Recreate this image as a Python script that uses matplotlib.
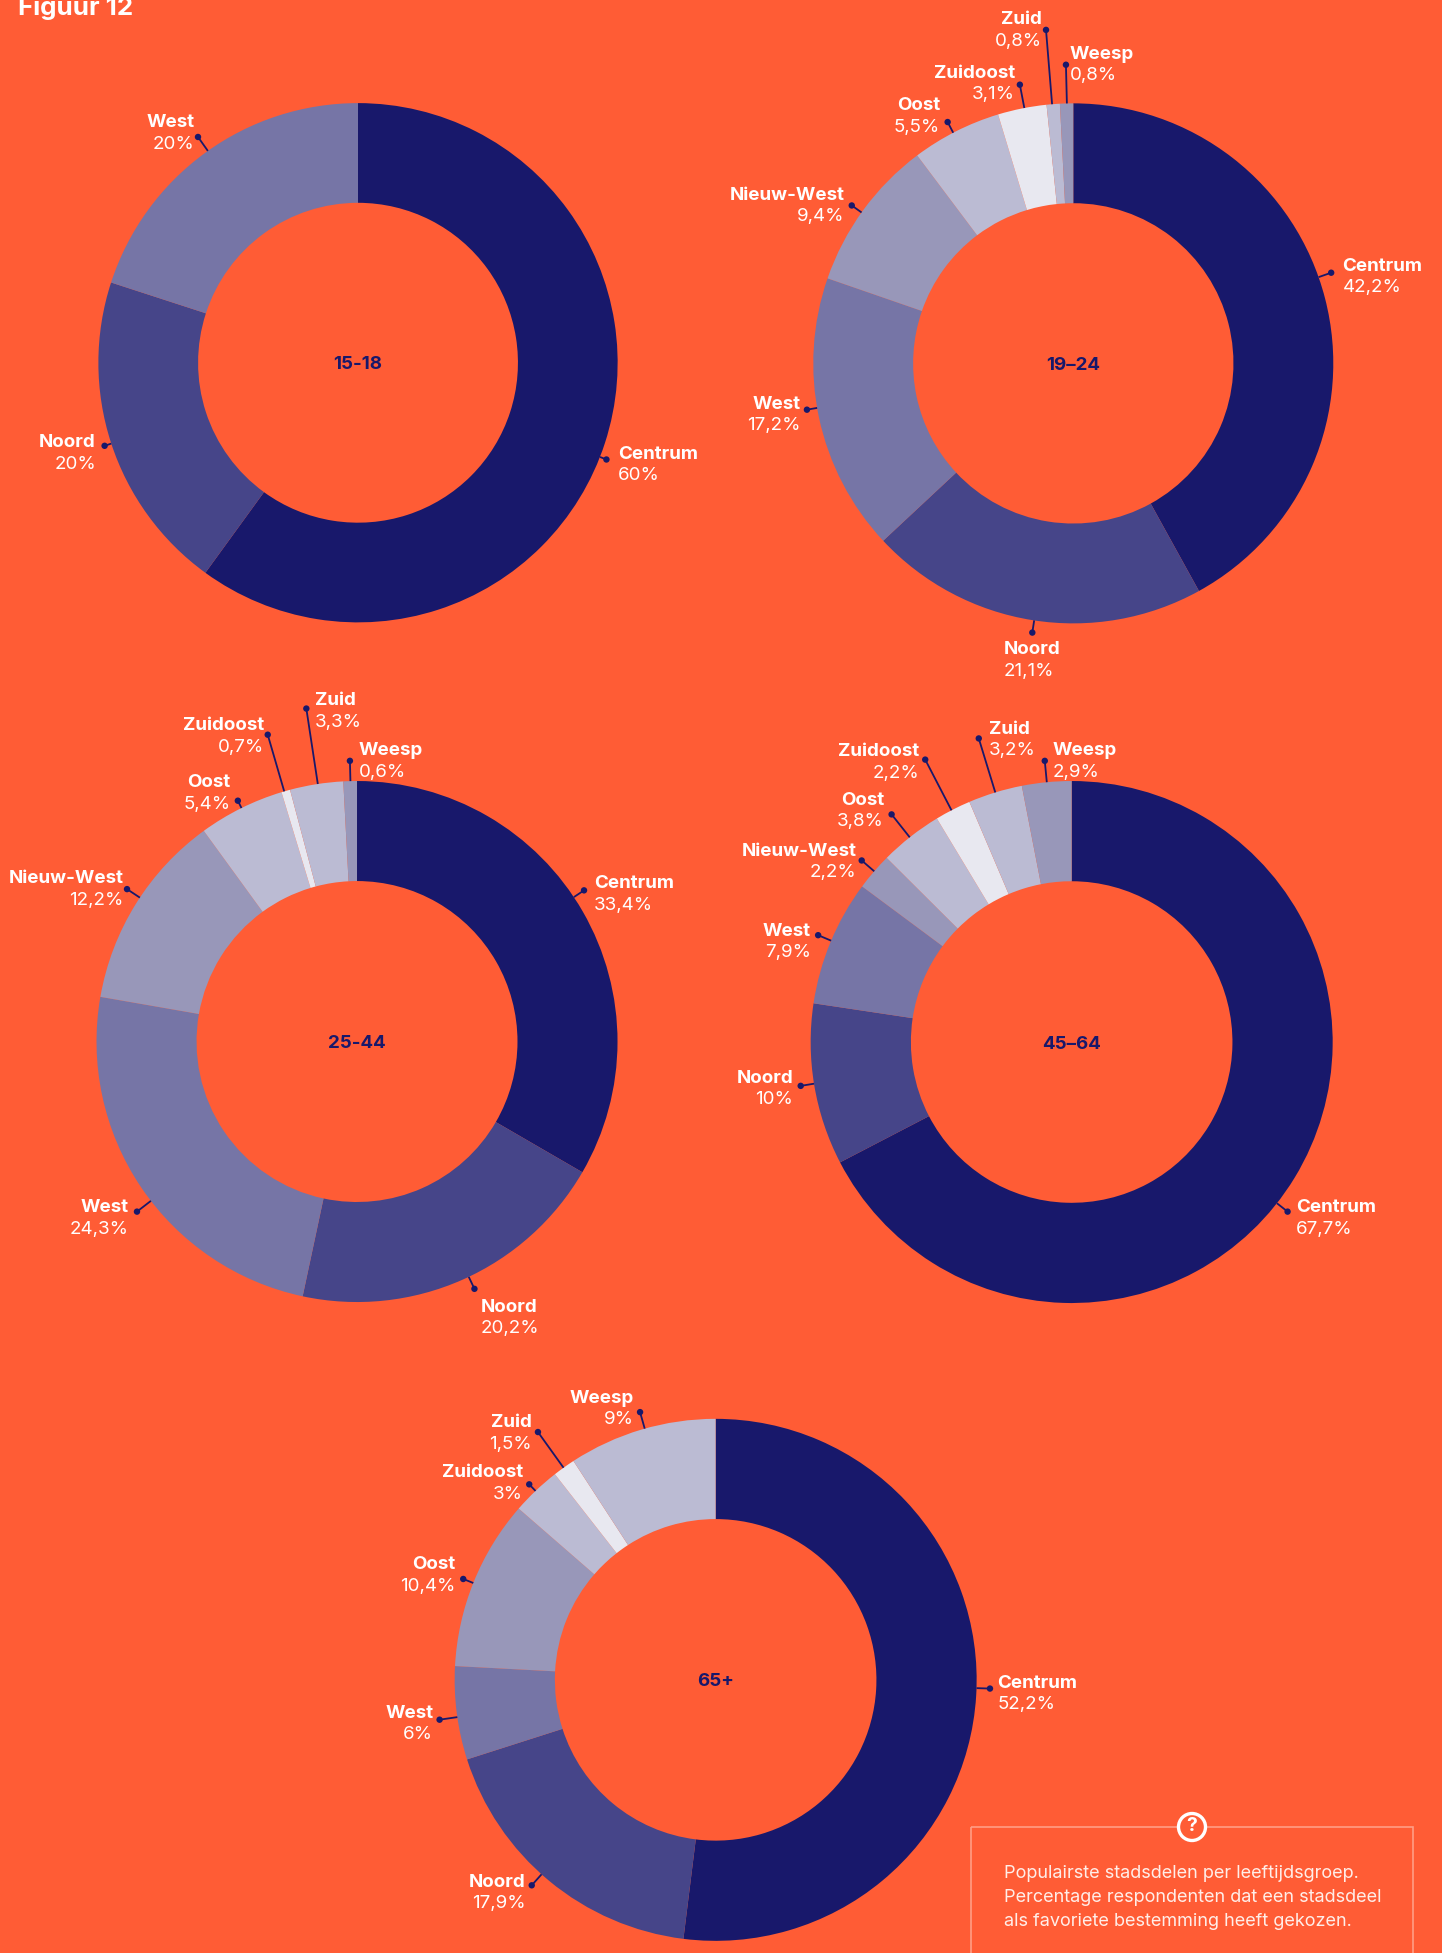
import matplotlib
matplotlib.use("Agg")
import matplotlib.pyplot as plt
from matplotlib.patches import Circle, Rectangle

# ── Data ──────────────────────────────────────────────────────────────────────
groups = ["15-18", "19–24", "25-44", "45–64", "65+"]

names_15_18 = ["Centrum", "Noord", "West"]
names_19_24 = ["Centrum", "Noord", "West", "Nieuw-West", "Oost", "Zuidoost", "Zuid", "Weesp"]
names_25_44 = ["Centrum", "Noord", "West", "Nieuw-West", "Oost", "Zuidoost", "Zuid", "Weesp"]
names_45_64 = ["Centrum", "Noord", "West", "Nieuw-West", "Oost", "Zuidoost", "Zuid", "Weesp"]
names_65 = ["Centrum", "Noord", "West", "Oost", "Zuidoost", "Zuid", "Weesp"]

# percentages as printed next to the slices
printed_15_18 = [60, 20, 20]
printed_19_24 = [42.2, 21.1, 17.2, 9.4, 5.5, 3.1, 0.8, 0.8]
printed_25_44 = [33.4, 20.2, 24.3, 12.2, 5.4, 0.7, 3.3, 0.6]
printed_45_64 = [67.7, 10, 7.9, 2.2, 3.8, 2.2, 3.2, 2.9]
printed_65 = [52.2, 17.9, 6, 10.4, 3, 1.5, 9]

# slice widths as measured on the picture, they differ a bit from the printed ones
slices_15_18 = [60, 20, 20]
slices_19_24 = [41.97, 21.08, 17.25, 9.45, 5.58, 3.03, 0.82, 0.82]
slices_25_44 = [33.37, 19.98, 24.4, 12.25, 5.33, 0.54, 3.3, 0.84]
slices_45_64 = [67.4, 10.0, 7.8, 2.3, 3.9, 2.23, 3.35, 3.06]
slices_65 = [51.97, 18.1, 5.77, 10.55, 3.05, 1.39, 9.17]

all_names = [names_15_18, names_19_24, names_25_44, names_45_64, names_65]
all_printed = [printed_15_18, printed_19_24, printed_25_44, printed_45_64, printed_65]
all_slices = [slices_15_18, slices_19_24, slices_25_44, slices_45_64, slices_65]

note_lines = [
    "Populairste stadsdelen per leeftijdsgroep.",
    "Percentage respondenten dat een stadsdeel",
    "als favoriete bestemming heeft gekozen.",
]

# ── Style / layout ────────────────────────────────────────────────────────────
BG = "#ff5c35"
NAVY = "#18186b"
palette = ["#18186b", "#464589", "#7675a6", "#9897b9", "#bbbbd3", "#e8e8f0", "#bbbbd3", "#9897b9"]
W, H = 1442, 1953
S = 1442 / 1158  # layout below

centers = [(287.5, 291.3), (861.9, 291.8), (286.7, 836.4), (860.6, 836.8), (574.7, 1349)]
radii = [208.5, 208.8, 209.2, 209.6, 209.6]
HOLE = 0.616

# leader dot (x, y), then label (x, y of the name, ha)
dots = [
    [(487, 369), (84, 358), (159, 110)],
    [(1069, 219), (829, 508), (648, 329), (684, 165), (761, 98), (819, 68), (840, 24), (856, 52)],
    [(469, 715), (381, 1035), (110, 973), (102, 714), (191, 643), (215, 590), (246, 569), (281, 611)],
    [(1034, 973), (643, 872), (657, 751), (692, 691), (716, 654), (743, 610), (786, 593), (839, 611)],
    [(795, 1356), (427, 1514), (353, 1381), (372, 1268), (425, 1192), (432, 1150), (514, 1134)],
]
labels = [
    [(496, 363, "left"), (76, 354, "right"), (155, 97, "right")],
    [(1078, 212, "left"), (806, 520, "left"), (642, 323, "right"), (677, 155, "right"),
     (754, 83, "right"), (814, 57, "right"), (836, 14, "right"), (859, 42, "left")],
    [(477, 708, "left"), (386, 1048, "left"), (102, 968, "right"), (98, 704, "right"),
     (184, 627, "right"), (211, 581, "right"), (253, 561, "left"), (288, 601, "left")],
    [(1041, 968, "left"), (636, 864, "right"), (650, 746, "right"), (687, 682, "right"),
     (709, 641, "right"), (737, 602, "right"), (794, 584, "left"), (845, 601, "left")],
    [(801, 1350, "left"), (421, 1510, "right"), (347, 1374, "right"), (365, 1255, "right"),
     (419, 1181, "right"), (426, 1141, "right"), (508, 1121, "right")],
]
LINE_GAP = 17.3
TEXT_DY = 1.7

plt.rcParams["font.family"] = ["Inter", "DejaVu Sans"]
fig = plt.figure(figsize=(W / 100, H / 100), dpi=100, facecolor=BG)

# overlay in pixels for the labels and the note box
over = fig.add_axes([0, 0, 1, 1], zorder=3)
over.set_xlim(0, W)
over.set_ylim(H, 0)
over.axis("off")

# ── Donuts ────────────────────────────────────────────────────────────────────
for i, group in enumerate(groups):
    cx, cy = centers[i][0] * S, centers[i][1] * S
    r = radii[i] * S
    ax = fig.add_axes([(cx - r) / W, 1 - (cy + r) / H, 2 * r / W, 2 * r / H], zorder=1)
    ax.pie(all_slices[i], colors=palette[:len(all_slices[i])], startangle=90, counterclock=False,
           radius=1, wedgeprops={"width": 1 - HOLE, "linewidth": 0})
    ax.set_xlim(-1, 1)
    ax.set_ylim(-1, 1)
    over.text(cx, cy + 2, group, ha="center", va="center", fontsize=13.5, fontweight="bold", color=NAVY)

    for name, val, dot, lab in zip(all_names[i], all_printed[i], dots[i], labels[i]):
        dx, dy = dot[0] * S - cx, dot[1] * S - cy
        dist = (dx ** 2 + dy ** 2) ** 0.5
        over.plot([cx + dx / dist * r, dot[0] * S], [cy + dy / dist * r, dot[1] * S],
                  color=NAVY, lw=1.3, solid_capstyle="butt")
        over.add_patch(Circle((dot[0] * S, dot[1] * S), 3.2, fc=NAVY, ec="none"))
        pct = f"{val:g}".replace(".", ",") + "%"
        tx = (lab[0] + (1 if lab[2] == "right" else 0)) * S
        over.text(tx, (lab[1] + TEXT_DY) * S, name, ha=lab[2], va="center", color="white",
                  fontsize=13.5, fontweight="bold")
        over.text(tx, (lab[1] + TEXT_DY + LINE_GAP) * S, pct, ha=lab[2], va="center", color="white",
                  fontsize=13.5)

# ── Title and note ────────────────────────────────────────────────────────────
over.text(18, 7, "Figuur 12", ha="left", va="center", color="white", fontsize=18.7, fontweight="bold")

over.add_patch(Rectangle((971, 1827), 442, 200, fc="none", ec="#ff9d85", lw=1.2, clip_on=True))
over.add_patch(Circle((1192, 1827), 13.5, fc=BG, ec="white", lw=2.4, zorder=4))
over.text(1192, 1826, "?", ha="center", va="center", color="white", fontsize=14, fontweight="bold", zorder=5)
for y, line in zip([1873, 1897, 1921], note_lines):
    over.text(1004, y, line, ha="left", va="center", color="#ffeee9", fontsize=13.03)

fig.savefig("out.png", dpi=100, facecolor=BG)
